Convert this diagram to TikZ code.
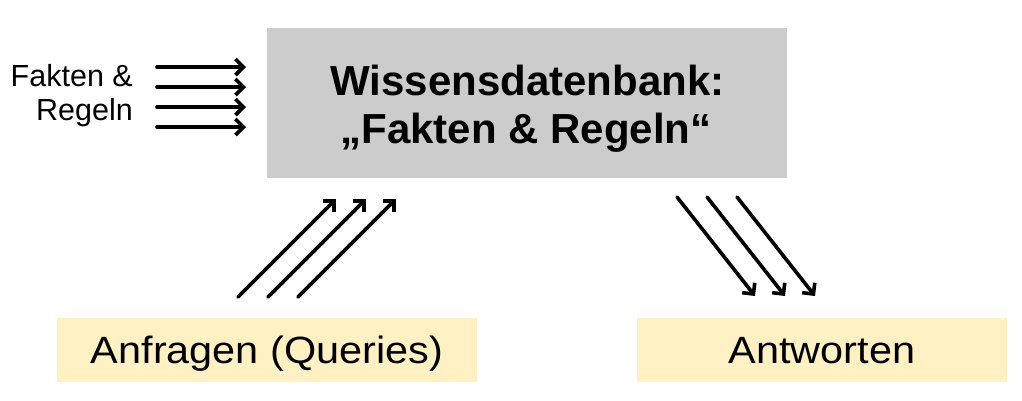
\documentclass[tikz,border=0pt]{standalone}
\usepackage{fontspec}
\setmainfont{Liberation Sans}
\newfontfamily\widefont{Liberation Sans}[FakeStretch=1.09]
\usetikzlibrary{arrows.meta}
\definecolor{kbgray}{RGB}{204,204,204}
\definecolor{ansyellow}{RGB}{255,241,196}
\begin{document}
\begin{tikzpicture}[x=1pt,y=-1pt,
  arr/.style={line width=3.6pt,line cap=round,-{Straight Barb[length=8pt,width=16pt]}},
  kbbox/.style={fill=kbgray,inner sep=0pt,minimum width=520pt,minimum height=150pt},
  kbtext/.style={font=\bfseries\fontsize{42}{48}\selectfont,anchor=base,inner sep=0pt},
  sidetext/.style={font=\fontsize{30.5}{34}\selectfont,anchor=base east,inner sep=0pt},
  ybox/.style={fill=ansyellow,inner sep=0pt,minimum height=64pt,text height=27.2pt,text depth=0pt,
    font=\widefont\fontsize{38}{44}\selectfont}]
\useasboundingbox (0,0) rectangle (1022,400);
% knowledge base
\node[kbbox] (kb) at (527,103) {};
\node[kbtext] (kbA) at (527.5,95) {Wissensdatenbank:};
\node[kbtext] (kbB) at (526,143) {„Fakten \& Regeln“};
% side text
\node[sidetext] (fr1) at (133,86) {Fakten \&};
\node[sidetext] (fr2) at (133,120) {Regeln};
% bottom boxes
\node[ybox,minimum width=420pt] (anf) at (267,350) {Anfragen (Queries)};
\node[ybox,minimum width=370pt] (antw) at (822,350) {Antworten};
% left arrows
\foreach \i/\y in {1/67,2/87,3/107,4/127}{
  \coordinate (la\i) at (157,\y);
  \coordinate (lb\i) at (246,\y);
  \draw[arr] (la\i) -- (lb\i);
}
% up arrows
\foreach \i/\x in {1/238,2/268,3/298}{
  \coordinate (ua\i) at (\x,297);
  \coordinate (ub\i) at (\x+98,199);
  \draw[arr] (ua\i) -- (ub\i);
}
% down arrows
\foreach \i/\x in {1/677,2/707,3/737}{
  \coordinate (da\i) at (\x,197);
  \coordinate (db\i) at (\x+78,296);
  \draw[arr] (da\i) -- (db\i);
}
\end{tikzpicture}
\end{document}
